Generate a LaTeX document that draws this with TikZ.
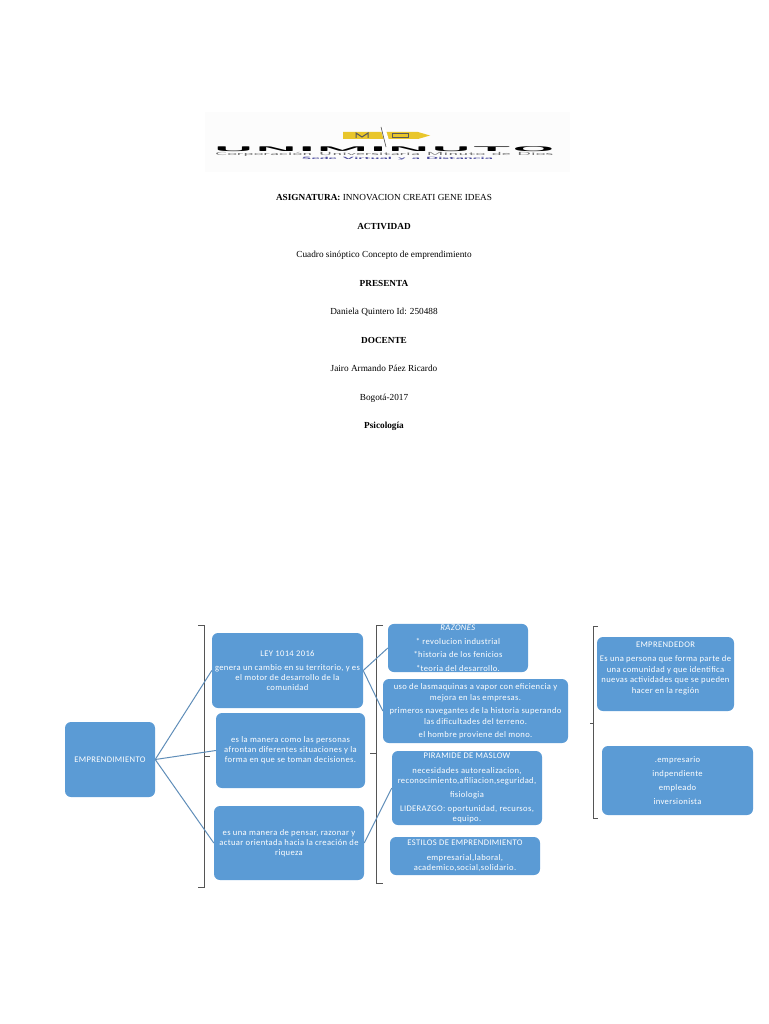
\documentclass[tikz,border=0pt]{standalone}
\usepackage{fontspec}
\setmainfont{Liberation Serif}
\newfontfamily\boxfont[LetterSpace=4]{Carlito}
\definecolor{boxblue}{HTML}{5B9BD5}
\definecolor{linkblue}{HTML}{5F8DB8}
\definecolor{braceline}{HTML}{555555}
\definecolor{pencil}{HTML}{E9C62B}
\tikzset{
  block/.style={fill=boxblue, rounded corners=6pt, text=white, align=center, inner sep=1pt, font=\boxfont\fontsize{8.6}{10}\selectfont},
  cover/.style={font=\fontsize{9.25}{11}\selectfont, inner sep=0pt},
  link/.style={draw=linkblue, line width=1pt},
  bracket/.style={draw=braceline, line width=0.6pt}
}
\begin{document}
\begin{tikzpicture}[x=1pt,y=-1pt]
  \useasboundingbox (0,0) rectangle (768,1024);

  % logo
  \fill[black!1] (205,112) rectangle (570,172);
  \fill[pencil] (343,132) -- (418,132) -- (430,135.5) -- (418,139) -- (343,139) -- cycle;
  \draw[black!65, line width=1pt] (356,138) -- (356,133) -- (362,137) -- (368,133) -- (368,138);
  \draw[black!65, line width=1pt] (392,133.5) rectangle (408,138);
  \fill[white] (380,127) -- (385,127) -- (391,147) -- (386,147) -- cycle;
  \draw[black!70, line width=0.6pt] (381,127) -- (386,147);
  \node[inner sep=0pt, text=black] (logoname) at (384,149.5) {\resizebox*{342pt}{5pt}{\sffamily\bfseries UNIMINUTO}};
  \node[inner sep=0pt, text=black!55] (logosub) at (384,154.3) {\resizebox*{338pt}{4pt}{\sffamily Corporaci\'on Universitaria Minuto de Dios}};
  \node[inner sep=0pt, text=blue!45!black!70] (logoseat) at (397.5,158.3) {\resizebox*{191pt}{3pt}{\sffamily\bfseries Sede Virtual y a Distancia}};

  % cover page
  \node[cover] (subject) at (384,197.8) {\textbf{ASIGNATURA:} INNOVACION CREATI GENE IDEAS};
  \node[cover] (activity) at (384,226.8) {\textbf{ACTIVIDAD}};
  \node[cover] (title) at (384,254.8) {Cuadro sin\'optico Concepto de emprendimiento};
  \node[cover] (presents) at (384,283.8) {\textbf{PRESENTA}};
  \node[cover] (student) at (384,311.8) {Daniela Quintero Id: 250488};
  \node[cover] (teacher) at (384,340.8) {\textbf{DOCENTE}};
  \node[cover] (teachername) at (384,368.8) {Jairo Armando P\'aez Ricardo};
  \node[cover] (city) at (384,397.8) {Bogot\'a-2017};
  \node[cover] (faculty) at (384,426.8) {\textbf{Psicolog\'ia}};

  % brackets
  \draw[bracket] (198,625) -- (204,625) -- (204,887) -- (198,887);
  \draw[bracket] (204,756) -- (210,756);
  \draw[bracket] (383,625) -- (376,625) -- (376,883) -- (383,883);
  \draw[bracket] (376,753) -- (370,753);
  \draw[bracket] (598,626) -- (593,626) -- (593,818) -- (598,818);
  \draw[bracket] (593,723) -- (590,723);

  % boxes
  \node[block, minimum width=90pt, minimum height=75pt] (main) at (110,759.5) {EMPRENDIMIENTO};
  \node[block, minimum width=151pt, minimum height=75pt] (law) at (287.5,670.5) {LEY 1014 2016\\[3.5pt]genera un cambio en su territorio, y es\\el motor de desarrollo de la\\comunidad};
  \node[block, minimum width=149pt, minimum height=75pt] (way) at (290.5,750.5) {es la manera como las personas\\afrontan diferentes situaciones y la\\forma en que se toman decisiones.};
  \node[block, minimum width=150pt, minimum height=74pt] (think) at (289,843) {es una manera de pensar, razonar y\\actuar orientada hacia la creaci\'on de\\riqueza};
  \node[block, minimum width=140pt, minimum height=48pt] (reasons) at (458,648) {\textit{RAZONES}\\[3.5pt]* revolucion industrial\\[3.5pt]*historia de los fenicios\\[3.5pt]*teoria del desarrollo.};
  \node[block, minimum width=185pt, minimum height=64pt] (steam) at (475.5,711) {uso de lasmaquinas a vapor con eficiencia y\\[1pt]mejora en las empresas.\\[3pt]primeros navegantes de la historia superando\\[1pt]las dificultades del terreno.\\[3pt]el hombre proviene del mono.};
  \node[block, minimum width=150pt, minimum height=74pt] (maslow) at (467,788) {PIRAMIDE DE MASLOW\\[5pt]necesidades autorealizacion,\\reconocimiento,afiliacion,seguridad,\\[3.5pt]fisiologia\\[4pt]LIDERAZGO: oportunidad, recursos,\\equipo.};
  \node[block, minimum width=150pt, minimum height=38pt] (styles) at (465,856) {ESTILOS DE EMPRENDIMIENTO\\[5pt]empresarial,laboral,\\academico,social,solidario.};
  \node[block, minimum width=137pt, minimum height=74pt] (person) at (665.5,674) {EMPRENDEDOR\\[4pt]Es una persona que forma parte de\\[0.5pt]una comunidad y que identifica\\[0.5pt]nuevas actividades que se pueden\\[0.5pt]hacer en la regi\'on\\[3pt]{}};
  \node[block, minimum width=151pt, minimum height=69pt] (roles) at (677.5,780.5) {.empresario\\[4pt]indpendiente\\[4pt]empleado\\[4pt]inversionista};

  % connectors
  \draw[link] (main.east) -- (law.west);
  \draw[link] (main.east) -- (way.west);
  \draw[link] (main.east) -- (think.west);
  \draw[link] (law.east) -- (reasons.west);
  \draw[link] (law.east) -- (steam.west);
  \draw[link] (think.east) -- (maslow.west);
\end{tikzpicture}
\end{document}
